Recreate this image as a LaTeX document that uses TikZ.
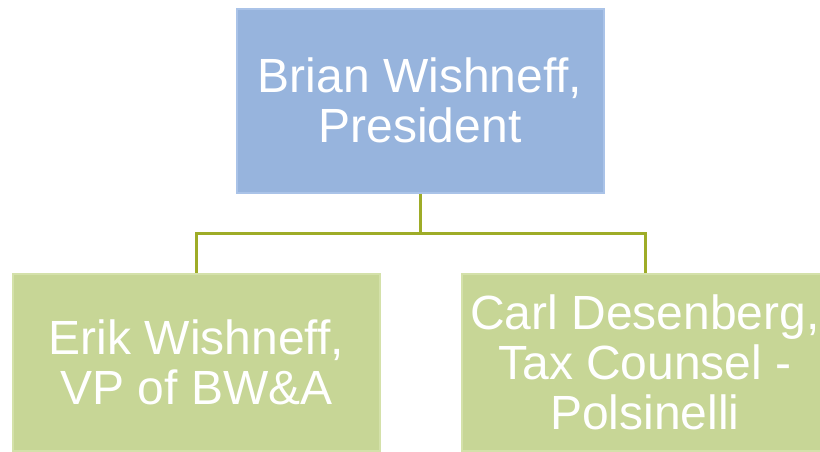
\documentclass[tikz,border=0pt]{standalone}
\usepackage{fontspec}
\setmainfont{Liberation Sans}
\usetikzlibrary{calc}
\definecolor{bluebox}{RGB}{151,180,221}
\definecolor{blueedge}{RGB}{170,195,232}
\definecolor{greenbox}{RGB}{199,214,150}
\definecolor{greenedge}{RGB}{212,225,170}
\definecolor{linkcol}{RGB}{158,172,40}
\tikzset{
  orgbox/.style={rectangle, minimum width=367pt, inner sep=0pt, align=center,
    text=white, font=\fontsize{48}{50}\selectfont, line width=2pt},
  topbox/.style={orgbox, fill=bluebox, draw=blueedge, minimum height=184pt},
  subbox/.style={orgbox, fill=greenbox, draw=greenedge, minimum height=177pt},
  link/.style={draw=linkcol, line width=3pt}
}
\begin{document}
\begin{tikzpicture}[x=1pt,y=-1pt]
\useasboundingbox (0,0) rectangle (820,451);
\clip (0,0) rectangle (820,451);
\fill[white] (0,0) rectangle (820,451);
\node[topbox] (pres) at (420,100.5) {Brian Wishneff,\\President};
\node[subbox] (erik) at (196.5,362) {Erik Wishneff,\\VP of BW\&A};
\node[subbox] (carl) at (645,362) {Carl Desenberg,\\Tax Counsel -\\Polsinelli};
\coordinate (j) at ($(pres.south)!0.5!(erik.north -| pres.south)$);
\draw[link] (pres.south) -- (j) -| (erik.north);
\draw[link] (j) -| (carl.north);
\end{tikzpicture}
\end{document}
